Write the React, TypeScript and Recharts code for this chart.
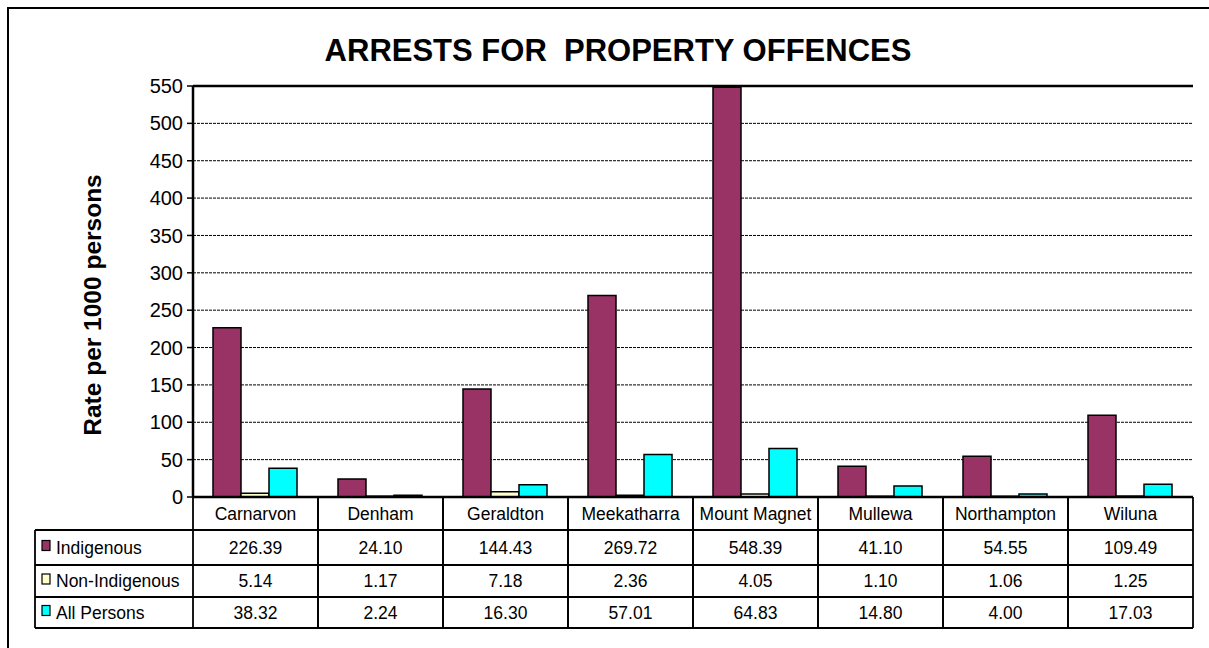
import React from 'react';
import { BarChart, Bar, XAxis, YAxis, CartesianGrid, ReferenceLine } from 'recharts';

const categories = ['Carnarvon', 'Denham', 'Geraldton', 'Meekatharra', 'Mount Magnet', 'Mullewa', 'Northampton', 'Wiluna'];
const indigenous = [226.39, 24.1, 144.43, 269.72, 548.39, 41.1, 54.55, 109.49];
const nonIndigenous = [5.14, 1.17, 7.18, 2.36, 4.05, 1.1, 1.06, 1.25];
const allPersons = [38.32, 2.24, 16.3, 57.01, 64.83, 14.8, 4.0, 17.03];
const yTicks = [0, 50, 100, 150, 200, 250, 300, 350, 400, 450, 500, 550];
const seriesNames = ['Indigenous', 'Non-Indigenous', 'All Persons'];
const seriesColors = ['#993366', '#FFFFCC', '#00FFFF'];
const seriesValues = [indigenous, nonIndigenous, allPersons];
const title = 'ARRESTS FOR  PROPERTY OFFENCES';
const yLabel = 'Rate per 1000 persons';

const data = categories.map((c, i) => ({
  name: c,
  indigenous: indigenous[i],
  nonIndigenous: nonIndigenous[i],
  allPersons: allPersons[i],
}));

const W = 1209;
const H = 648;
const PLOT_LEFT = 193;
const PLOT_RIGHT = 1193;
const PLOT_TOP = 86;
const XAXIS_H = 151;
const BAND = (PLOT_RIGHT - PLOT_LEFT) / categories.length;
const ROWS = [0, 33, 68, 100, 131];
const LEGEND_LEFT = 35;
const FONT = '"Liberation Sans", Arial, Helvetica, sans-serif';
const TABLE_FS = 17.5;

function TableTick(props: any) {
  const { x, y, payload } = props;
  const i = categories.indexOf(payload.value);
  const l = x - BAND / 2;
  const r = x + BAND / 2;
  const sw = 1.8;
  const els: any[] = [];
  els.push(<line key="vl" x1={l} x2={l} y1={y} y2={y + ROWS[4]} stroke="#000" strokeWidth={sw} />);
  els.push(<line key="vr" x1={r} x2={r} y1={y} y2={y + ROWS[4]} stroke="#000" strokeWidth={sw} />);
  for (let k = 1; k < ROWS.length; k++) {
    els.push(<line key={'h' + k} x1={l} x2={r} y1={y + ROWS[k]} y2={y + ROWS[k]} stroke="#000" strokeWidth={sw} />);
  }
  els.push(
    <text key="hdr" x={x} y={y + (ROWS[0] + ROWS[1]) / 2} dy="0.36em" textAnchor="middle" fontSize={TABLE_FS} fontFamily={FONT} fill="#000">
      {payload.value}
    </text>
  );
  seriesValues.forEach((vals, s) => {
    els.push(
      <text key={'v' + s} x={x} y={y + (ROWS[s + 1] + ROWS[s + 2]) / 2} dy="0.36em" textAnchor="middle" fontSize={TABLE_FS} fontFamily={FONT} fill="#000">
        {vals[i].toFixed(2)}
      </text>
    );
  });
  if (i === 0) {
    els.push(<line key="ll" x1={LEGEND_LEFT} x2={LEGEND_LEFT} y1={y + ROWS[1]} y2={y + ROWS[4]} stroke="#000" strokeWidth={sw} />);
    for (let k = 1; k < ROWS.length; k++) {
      els.push(<line key={'lh' + k} x1={LEGEND_LEFT} x2={l} y1={y + ROWS[k]} y2={y + ROWS[k]} stroke="#000" strokeWidth={sw} />);
    }
    seriesNames.forEach((n, s) => {
      const cy = y + (ROWS[s + 1] + ROWS[s + 2]) / 2;
      els.push(<rect key={'m' + s} x={LEGEND_LEFT + 7} y={cy - 7} width={8} height={10} fill={seriesColors[s]} stroke="#000" strokeWidth={1.2} />);
      els.push(
        <text key={'n' + s} x={LEGEND_LEFT + 21} y={cy} dy="0.36em" textAnchor="start" fontSize={TABLE_FS} fontFamily={FONT} fill="#000">
          {n}
        </text>
      );
    });
  }
  return <g>{els}</g>;
}

export default function App() {
  return (
    <div style={{ position: 'absolute', left: 0, top: 0, width: W, height: H, overflow: 'hidden', background: '#fff' }}>
      <div style={{ position: 'absolute', left: 7, top: 7, width: W + 50, height: H + 50, border: '2.5px solid #000', boxSizing: 'border-box' }} />
      <div style={{ position: 'absolute', left: 0, top: 0 }}>
        <BarChart
          width={W}
          height={H}
          data={data}
          margin={{ top: PLOT_TOP, right: W - PLOT_RIGHT, bottom: 0, left: 0 }}
          barCategoryGap="16%"
          barGap={0}
        >
          <CartesianGrid vertical={false} stroke="#000" strokeDasharray="3 1" strokeWidth={1} />
          <XAxis
            dataKey="name"
            height={XAXIS_H}
            interval={0}
            tickLine={false}
            tickSize={0}
            tickMargin={0}
            axisLine={{ stroke: '#000', strokeWidth: 2.5 }}
            tick={<TableTick />}
          />
          <YAxis
            width={PLOT_LEFT}
            domain={[0, 550]}
            ticks={yTicks}
            interval={0}
            tickSize={6}
            tickMargin={4}
            tickLine={{ stroke: '#000', strokeWidth: 1.5 }}
            axisLine={{ stroke: '#000', strokeWidth: 2.5 }}
            tick={{ fill: '#000', fontSize: 20, fontFamily: FONT }}
          />
          <YAxis
            yAxisId="r"
            orientation="right"
            width={0}
            domain={[0, 550]}
            tick={false}
            tickLine={false}
            axisLine={{ stroke: '#000', strokeWidth: 2.5 }}
          />
          <ReferenceLine y={550} stroke="#000" strokeWidth={2.5} />
          <Bar dataKey="indigenous" fill={seriesColors[0]} stroke="#000" strokeWidth={1.5} isAnimationActive={false} />
          <Bar dataKey="nonIndigenous" fill={seriesColors[1]} stroke="#000" strokeWidth={1.5} isAnimationActive={false} />
          <Bar dataKey="allPersons" fill={seriesColors[2]} stroke="#000" strokeWidth={1.5} isAnimationActive={false} />
        </BarChart>
      </div>
      <svg width={W} height={H} style={{ position: 'absolute', left: 0, top: 0, pointerEvents: 'none' }}>
        <text x={618} y={50} dy="0.36em" textAnchor="middle" fontSize={31} fontWeight="bold" fontFamily={FONT} fill="#000" style={{ whiteSpace: 'pre' }}>
          {title}
        </text>
        <text x={92} y={305} dy="0.36em" textAnchor="middle" fontSize={24.5} fontWeight="bold" fontFamily={FONT} fill="#000" transform="rotate(-90 92 305)">
          {yLabel}
        </text>
      </svg>
    </div>
  );
}
